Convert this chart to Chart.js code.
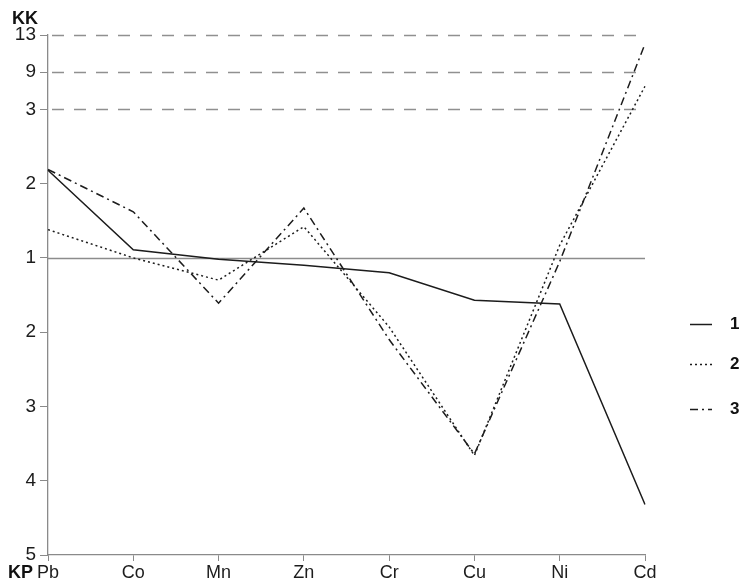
<!DOCTYPE html>
<html>
<head>
<meta charset="utf-8">
<script src="https://cdn.jsdelivr.net/npm/chart.js@4"></script>
<style>
  html, body { margin: 0; padding: 0; background: #fff; }
  canvas { display: block; }
</style>
</head>
<body>
<canvas id="chart" width="742" height="585"></canvas>
<script>
// Elements along the x axis
const elements = ['Pb', 'Co', 'Mn', 'Zn', 'Cr', 'Cu', 'Ni', 'Cd'];

// Series values on the diagram's position scale:
// 0 is the KK = KP = 1 line, positive rows are concentration (KK),
// negative rows are dispersion (KP).
const series1 = [1.18, 0.11, -0.02, -0.10, -0.20, -0.57, -0.62, -3.32];
const series2 = [0.38, 0.00, -0.30, 0.42, -0.93, -2.66, 0.17, 2.31];
const series3 = [1.19, 0.62, -0.61, 0.67, -1.10, -2.64, -0.05, 2.88];
const seriesNames = ['1', '2', '3'];

// Tick rows and the coefficient printed at each of them
const tickRows = [3, 2.5, 2, 1, 0, -1, -2, -3, -4];
const tickText = ['13', '9', '3', '2', '1', '2', '3', '4', '5'];

// Threshold rows drawn as dashed lines, and the unity line
const dashedRows = [3, 2.5, 2];
const unityRow = 0;

const FONT = "'Liberation Sans', Arial, sans-serif";
const INK = '#1c1c1c';
const AXIS = '#8a8a8a';

const styles = [
  { dash: [] , width: 1.5 },
  { dash: [2, 3], width: 1.5 },
  { dash: [8, 4, 2, 4], width: 1.5 }
];

// Reference lines across the plot area
const refLines = {
  id: 'refLines',
  beforeDatasetsDraw(chart) {
    const { ctx, chartArea: a, scales: { y } } = chart;
    ctx.save();
    ctx.strokeStyle = '#909090';
    ctx.lineWidth = 1.3;
    ctx.setLineDash([12, 10]);
    dashedRows.forEach(r => {
      const py = Math.round(y.getPixelForValue(r)) + 0.5;
      ctx.beginPath();
      ctx.moveTo(a.left + 4, py);
      ctx.lineTo(a.right, py);
      ctx.stroke();
    });
    ctx.setLineDash([]);
    ctx.strokeStyle = '#8c8c8c';
    ctx.lineWidth = 1.4;
    const py = Math.round(y.getPixelForValue(unityRow)) + 0.5;
    ctx.beginPath();
    ctx.moveTo(a.left, py);
    ctx.lineTo(a.right, py);
    ctx.stroke();
    ctx.restore();
  }
};

// Axis captions and the series key on the right
const captions = {
  id: 'captions',
  afterDraw(chart) {
    const { ctx } = chart;
    ctx.save();
    ctx.fillStyle = '#111';
    ctx.font = 'bold 18px ' + FONT;
    ctx.textBaseline = 'middle';
    ctx.textAlign = 'left';
    ctx.fillText('KK', 12, 19);
    ctx.fillText('KP', 8, 573);

    const keyY = [324, 364, 409];
    chart.data.datasets.forEach((ds, i) => {
      ctx.strokeStyle = INK;
      ctx.lineWidth = ds.borderWidth;
      ctx.setLineDash(ds.borderDash || []);
      ctx.beginPath();
      ctx.moveTo(690, keyY[i] + 0.5);
      ctx.lineTo(712, keyY[i] + 0.5);
      ctx.stroke();
      ctx.setLineDash([]);
      ctx.fillStyle = '#111';
      ctx.font = 'bold 17px ' + FONT;
      ctx.fillText(ds.label, 730, keyY[i]);
    });
    ctx.restore();
  }
};

new Chart(document.getElementById('chart'), {
  type: 'line',
  data: {
    labels: elements,
    datasets: [series1, series2, series3].map((d, i) => ({
      label: seriesNames[i],
      data: d,
      borderColor: INK,
      borderWidth: styles[i].width,
      borderDash: styles[i].dash,
      pointRadius: 0,
      tension: 0,
      fill: false
    }))
  },
  options: {
    responsive: false,
    animation: false,
    layout: { padding: { top: 35, right: 97, left: 0, bottom: 0 } },
    plugins: { legend: { display: false }, tooltip: { enabled: false } },
    scales: {
      x: {
        offset: false,
        grid: { drawOnChartArea: false, drawTicks: true, tickLength: 6, tickColor: AXIS, tickWidth: 1 },
        border: { color: AXIS, width: 1.3 },
        ticks: { color: INK, font: { family: FONT, size: 18 }, padding: 1, maxRotation: 0, autoSkip: false },
        afterFit(s) { s.height = 30; }
      },
      y: {
        min: -4,
        max: 3,
        afterBuildTicks(s) { s.ticks = tickRows.map(v => ({ value: v })); },
        grid: { drawOnChartArea: false, drawTicks: true, tickLength: 8, tickColor: AXIS, tickWidth: 1 },
        border: { color: AXIS, width: 1.3 },
        ticks: {
          color: INK,
          font: { family: FONT, size: 19 },
          padding: 4,
          autoSkip: false,
          callback(v) {
            const k = tickRows.indexOf(v);
            return k >= 0 ? tickText[k] : '';
          }
        },
        afterFit(s) { s.width = 48; }
      }
    }
  },
  plugins: [refLines, captions]
});
</script>
</body>
</html>
